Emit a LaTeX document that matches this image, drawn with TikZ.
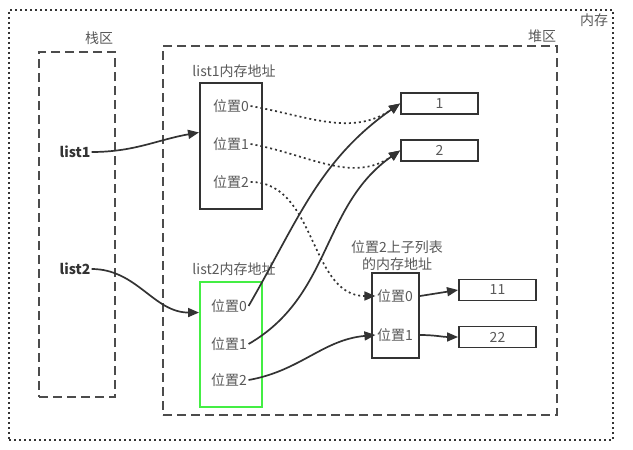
\documentclass[tikz,border=0pt]{standalone}
\usepackage{fontspec}
\setmainfont{Noto Sans CJK SC}
\usetikzlibrary{arrows.meta}
\definecolor{inkgray}{HTML}{333333}
\definecolor{addrgreen}{HTML}{44EE44}

\begin{document}
\begin{tikzpicture}[x=1pt, y=-1pt, font=\fontsize{14}{16}\selectfont,
  lbl/.style={text=black!65, inner sep=1pt},
  item/.style={lbl, inner sep=1.5pt},
  var/.style={text=inkgray, font=\fontsize{14}{16}\selectfont\bfseries, inner sep=1pt},
  memarea/.style={rectangle, draw=inkgray, line width=2pt, dash pattern=on 2pt off 3pt},
  region/.style={rectangle, draw=black!70, line width=2pt, dash pattern=on 9pt off 5pt},
  cell/.style={rectangle, draw=inkgray, line width=1.9pt, inner sep=0pt},
  valbox/.style={cell, minimum width=77pt, minimum height=21pt, text=black!65},
  ptr/.style={draw=inkgray, line width=1.7pt, -{Triangle[length=11pt, width=9pt]}},
  dptr/.style={ptr, dash pattern=on 2pt off 3pt}]
\useasboundingbox (0,0) rectangle (633,450);

% areas
\node[memarea, minimum width=604pt, minimum height=430pt] (mem) at (311,225) {};
\node[region, minimum width=76pt, minimum height=345pt] (stack) at (77,224.5) {};
\node[region, minimum width=394pt, minimum height=369pt] (heap) at (360,230.5) {};
\node[lbl] (memlbl) at (594,20) {内存};
\node[lbl] (stacklbl) at (99,38) {栈区};
\node[lbl] (heaplbl) at (542,36) {堆区};

% variables on the stack
\node[var] (list1) at (75,152) {list1};
\node[var] (list2) at (75,269) {list2};

% address blocks
\node[cell, minimum width=62pt, minimum height=126pt] (l1box) at (231,146) {};
\node[cell, draw=addrgreen, minimum width=62pt, minimum height=125pt] (l2box) at (231,344.5) {};
\node[cell, minimum width=47pt, minimum height=85pt] (subbox) at (395.5,315.5) {};
\node[lbl] (l1lbl) at (234,71) {list1内存地址};
\node[lbl] (l2lbl) at (234,269) {list2内存地址};
\node[lbl, align=center, font=\fontsize{14}{17}\selectfont] (sublbl) at (397,256) {位置2上子列表\\的内存地址};

\foreach \i/\y in {0/106,1/144,2/182}
  \node[item] (a\i) at (231,\y) {位置\i};
\foreach \i/\y in {0/306,1/344,2/380}
  \node[item] (b\i) at (229,\y) {位置\i};
\foreach \i/\y in {0/296,1/335}
  \node[item] (c\i) at (395,\y) {位置\i};

% values
\node[valbox] (v1) at (439.5,103.5) {1};
\node[valbox] (v2) at (439.5,150.5) {2};
\node[valbox] (v11) at (497.5,290) {11};
\node[valbox] (v22) at (497.5,337) {22};

% references
\draw[ptr] (list1.east) to[out=0, in=190] (l1box.157);
\draw[ptr] (list2.east) to[out=0, in=180] (l2box.135);
\draw[dptr] (a0.east) to[out=-10, in=215] (v1.west);
\draw[dptr] (a1.east) to[out=-10, in=215] (v2.west);
\draw[dptr] (a2.east) to[out=0, in=180] (c0.west);
\draw[ptr] (b0.east) to[out=60, in=215] (v1.west);
\draw[ptr] (b1.east) to[out=30, in=215] (v2.west);
\draw[ptr] (b2.east) to[out=10, in=185] (c1.west);
\draw[ptr] (subbox.east |- c0) -- (v11.west);
\draw[ptr] (subbox.east |- c1) to[out=0, in=180] (v22.west);
\end{tikzpicture}
\end{document}
